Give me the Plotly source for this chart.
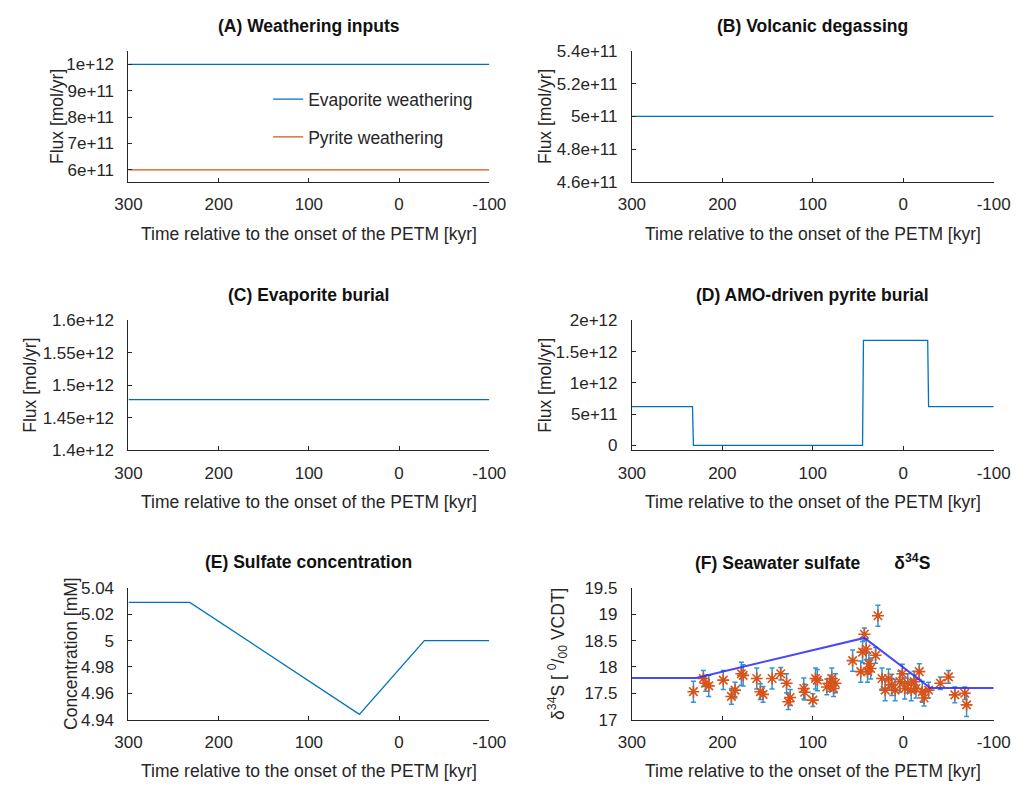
import plotly.graph_objects as go

# ---------------- data ----------------
time_flat = [300, -100]

evap_weathering = [1.0e12, 1.0e12]
pyrite_weathering = [6.0e11, 6.0e11]
volcanic_degassing = [5.0e11, 5.0e11]
evap_burial = [1.478e12, 1.478e12]

pyr_burial_t = [300, 233, 232, 45, 44, -27, -28, -100]
pyr_burial_v = [6.2e11, 6.2e11, 0.0, 0.0, 1.68e12, 1.68e12, 6.2e11, 6.2e11]

sulfate_t = [300, 232, 44, -28, -100]
sulfate_v = [5.029, 5.029, 4.944, 5.0, 5.0]

d34_model_t = [300, 229, 43, -30, -100]
d34_model_v = [17.79, 17.79, 18.55, 17.6, 17.6]

d34_obs_t = [232, 221, 218.5, 215, 199, 190, 186, 179, 177, 162, 158, 155, 145, 135.5,
             129, 127, 125, 110, 109, 100, 97, 95, 84.5, 81, 79, 77, 75, 56, 47, 45,
             43, 41, 39.5, 38, 36, 30.6, 28, 23.5, 20, 16.3, 12.7, 9, 3.8, 1, -1.6,
             -5, -8.8, -12, -14, -17.7, -21, -23, -28, -41, -50, -57, -68, -70]
d34_obs_v = [17.53, 17.78, 17.69, 17.64, 17.75, 17.44, 17.56, 17.87, 17.84, 17.78, 17.53,
             17.48, 17.78, 17.87, 17.69, 17.34, 17.42, 17.59, 17.52, 17.37, 17.78, 17.75,
             17.62, 17.69, 17.78, 17.59, 17.69, 18.12, 17.91, 18.28, 18.62, 18.34, 17.91,
             18.06, 17.97, 18.22, 18.97, 17.78, 17.56, 17.78, 17.66, 17.56, 17.72, 17.87,
             17.59, 17.69, 17.56, 17.72, 17.59, 17.91, 17.53, 17.41, 17.56, 17.69, 17.81,
             17.47, 17.5, 17.28]
d34_obs_err = [0.2, 0.15, 0.15, 0.2, 0.18, 0.15, 0.15, 0.22, 0.2, 0.2, 0.15, 0.15, 0.2, 0.12,
               0.18, 0.15, 0.15, 0.2, 0.15, 0.12, 0.2, 0.2, 0.15, 0.15, 0.2, 0.15, 0.18, 0.2,
               0.2, 0.2, 0.12, 0.2, 0.2, 0.2, 0.2, 0.15, 0.2, 0.2, 0.2, 0.18, 0.2, 0.2, 0.2,
               0.18, 0.2, 0.18, 0.2, 0.2, 0.18, 0.15, 0.2, 0.15, 0.15, 0.12, 0.12, 0.15,
               0.12, 0.22]

x_ticks = [300, 200, 100, 0, -100]
x_ticktext = ["300", "200", "100", "0", "-100"]

yA_ticks = [6e11, 7e11, 8e11, 9e11, 1e12]
yA_text = ["6e+11", "7e+11", "8e+11", "9e+11", "1e+12"]
yB_ticks = [4.6e11, 4.8e11, 5.0e11, 5.2e11, 5.4e11]
yB_text = ["4.6e+11", "4.8e+11", "5e+11", "5.2e+11", "5.4e+11"]
yC_ticks = [1.4e12, 1.45e12, 1.5e12, 1.55e12, 1.6e12]
yC_text = ["1.4e+12", "1.45e+12", "1.5e+12", "1.55e+12", "1.6e+12"]
yD_ticks = [0, 5e11, 1e12, 1.5e12, 2e12]
yD_text = ["0", "5e+11", "1e+12", "1.5e+12", "2e+12"]
yE_ticks = [4.94, 4.96, 4.98, 5.0, 5.02, 5.04]
yE_text = ["4.94", "4.96", "4.98", "5", "5.02", "5.04"]
yF_ticks = [17, 17.5, 18, 18.5, 19, 19.5]
yF_text = ["17", "17.5", "18", "18.5", "19", "19.5"]

titles = ["(A) Weathering inputs", "(B) Volcanic degassing", "(C) Evaporite burial",
          "(D) AMO-driven pyrite burial", "(E) Sulfate concentration",
          "(F) Seawater sulfate\u00a0\u00a0\u00a0\u00a0\u00a0\u00a0\u00a0δ<sup>34</sup>S"]
y_titles = ["Flux [mol/yr]", "Flux [mol/yr]", "Flux [mol/yr]", "Flux [mol/yr]",
            "Concentration [mM]",
            "δ<sup>34</sup>S [\u00a0<sup>0</sup>/<sub>00</sub>\u00a0VCDT]"]
x_title = "Time relative to the onset of the PETM [kyr]"

# ---------------- layout geometry ----------------
W, H = 1034, 796
FONT = "Liberation Sans, Arial, sans-serif"
FS = 17.5       # titles / labels
FT = 17         # tick labels
DARK = "#262626"
BLUE = "#0072BD"
ORANGE = "#D95319"


def fx(p):
    return p / W


def fy(p):
    return 1 - p / H


cols = [(118, 490), (637, 1010)]
rows = [(43, 177), (319, 452), (593, 728)]
ytitle_x = [45, 548, 17, 548, 58, 561]

fig = go.Figure()

ranges = [
    [5.55e11, 1.051e12], [4.6e11, 5.4e11], [1.4e12, 1.6e12],
    [-0.078e12, 2e12], [4.94, 5.04], [17, 19.5],
]
yticks = [(yA_ticks, yA_text), (yB_ticks, yB_text), (yC_ticks, yC_text),
          (yD_ticks, yD_text), (yE_ticks, yE_text), (yF_ticks, yF_text)]

annotations = []
for i in range(6):
    r, c = divmod(i, 2)
    x0, x1 = cols[c]
    y0, y1 = rows[r]
    sfx = "" if i == 0 else str(i + 1)
    fig.layout["xaxis" + sfx] = dict(
        domain=[fx(x0), fx(x1)], anchor="y" + sfx, range=[300, -100],
        tickvals=x_ticks, ticktext=x_ticktext, ticks="inside", ticklen=4,
        tickcolor=DARK, showline=True, linecolor=DARK, linewidth=1,
        showgrid=False, zeroline=False, tickfont=dict(family=FONT, size=FT, color=DARK),
        ticklabelstandoff=7,
    )
    fig.layout["yaxis" + sfx] = dict(
        domain=[fy(y1), fy(y0)], anchor="x" + sfx, range=ranges[i],
        tickvals=yticks[i][0], ticktext=yticks[i][1], ticks="inside", ticklen=4,
        tickcolor=DARK, showline=True, linecolor=DARK, linewidth=1,
        showgrid=False, zeroline=False, tickfont=dict(family=FONT, size=FT, color=DARK),
        ticklabelstandoff=10,
    )
    xc = (x0 + x1) / 2
    annotations.append(dict(text="<b>" + titles[i] + "</b>", x=fx(xc), y=fy(y0 - 26),
                            xref="paper", yref="paper", showarrow=False,
                            xanchor="center", yanchor="middle",
                            font=dict(family=FONT, size=FS, color="#111111")))
    annotations.append(dict(text=x_title, x=fx(xc), y=fy(y1 + 53),
                            xref="paper", yref="paper", showarrow=False,
                            xanchor="center", yanchor="middle",
                            font=dict(family=FONT, size=FS, color=DARK)))
    annotations.append(dict(text=y_titles[i], x=fx(ytitle_x[i]), y=fy((y0 + y1) / 2),
                            xref="paper", yref="paper", showarrow=False, textangle=-90,
                            xanchor="center", yanchor="middle",
                            font=dict(family=FONT, size=FS, color=DARK)))

# Panel A
fig.add_trace(go.Scatter(x=time_flat, y=evap_weathering, mode="lines", name="Evaporite weathering",
                         line=dict(color=BLUE, width=1.3), legendgroup="a1",
                         xaxis="x", yaxis="y"))
fig.add_trace(go.Scatter(x=time_flat, y=pyrite_weathering, mode="lines", name="Pyrite weathering",
                         line=dict(color=ORANGE, width=1.3), legendgroup="a2",
                         xaxis="x", yaxis="y"))
# Panel B
fig.add_trace(go.Scatter(x=time_flat, y=volcanic_degassing, mode="lines", showlegend=False,
                         line=dict(color=BLUE, width=1.3), xaxis="x2", yaxis="y2"))
# Panel C
fig.add_trace(go.Scatter(x=time_flat, y=evap_burial, mode="lines", showlegend=False,
                         line=dict(color=BLUE, width=1.3), xaxis="x3", yaxis="y3"))
# Panel D
fig.add_trace(go.Scatter(x=pyr_burial_t, y=pyr_burial_v, mode="lines", showlegend=False,
                         line=dict(color=BLUE, width=1.3), xaxis="x4", yaxis="y4"))
# Panel E
fig.add_trace(go.Scatter(x=sulfate_t, y=sulfate_v, mode="lines", showlegend=False,
                         line=dict(color=BLUE, width=1.3), xaxis="x5", yaxis="y5"))
# Panel F
fig.add_trace(go.Scatter(x=d34_obs_t, y=d34_obs_v, mode="markers", showlegend=False,
                         marker=dict(symbol="asterisk-open", size=10, color=ORANGE,
                                     line=dict(color=ORANGE, width=1.6)),
                         error_y=dict(type="data", array=d34_obs_err, color="#2f95d6",
                                      thickness=1.5, width=2.5),
                         xaxis="x6", yaxis="y6"))
fig.add_trace(go.Scatter(x=d34_model_t, y=d34_model_v, mode="lines", showlegend=False,
                         line=dict(color="rgba(40,40,255,0.85)", width=2),
                         xaxis="x6", yaxis="y6"))

fig.update_layout(
    width=W, height=H, margin=dict(l=0, r=0, t=0, b=0),
    paper_bgcolor="white", plot_bgcolor="white",
    font=dict(family=FONT, size=FS, color=DARK),
    annotations=annotations,
    legend=dict(x=fx(262), y=fy(74), xanchor="left", yanchor="top",
                bgcolor="rgba(0,0,0,0)", borderwidth=0, tracegroupgap=12,
                font=dict(family=FONT, size=FS, color=DARK)),
)

fig.write_html("out.html")
